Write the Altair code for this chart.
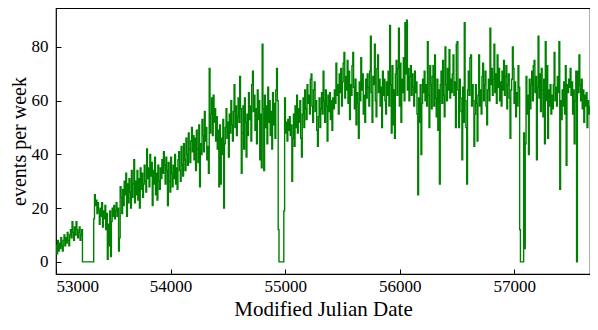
import altair as alt
import pandas as pd

# weekly event counts, each block starts at the given MJD and steps by 7 days
A_start, A = 53000, [6,3,8,4,7,5,9,6,4,8,10,6,9,7,11,8,6,10,12,9,15,11,8,13,10,15,12,9,11,13,8,10,12]
B_start, B = 53231, [0]*14
C_start, C = 53329, [16,25,21,23,18,22,19,14,20,17,22,13,19,16,21,12,18,1,14,6,19,2,15,20,17,21,16,19,22,17,20,4,9,28,24,18,27,21,30]
D_start, D = 53602, [25,33,17,29,22,31,26,20,34,24,29,38,22,30,25,34,23,31,20,35,27,33,24,29,36,30,26,42,31]
E_start, E = 53805, [35,28,40,32,37,21,34,29,39,25,33,23,36,30,27,35,31,38,33,41,36,29,39,34,21,37,30,26,39,33,28,36,31,40,29,35,27,38,41,34,30,43,36,32,44,38,34,46,40,36,48,42,37,45,50,41,47]
F_start, F = 54204, [38,46,34,49,42,37,51,28,44,40,53,47,41,56,45,50,38,43,33,72,48,55,61,47,62,52,57,45,54,42,49,28,51,29,46,40,53,20,44,50,57,46,52,39,55,48,60,51,45,56,66,50,58,47,54,61,52,69,57,33]
G_start, G = 54624, [48,58,42,61,52,39,55,47,63,53,58,45,66,71,56,62,49,57,44,64,53,60,38,55,35,81,57,34,62,50,58,44,65,52,60,47,56,42,63,51,59,46,64,72,60,12,0,0,0,0,0,0,19,61,48,52]
H_start, H = 55016, [45,53,49,54,47,51,30,46,55,43,58,50,62,48,57,52,60,46,39,55,61,50,64,57,53,66,59,62,55,68,70,58,52,64,67,56,60,49,43,54,61,50,57,63,55,71,60,52,64,58,45,62,56,63,53,60,49,61,57,64,59,74,62]
I_start, I = 55457, [66,55,70,63,72,58,67,74,78,61,69,64,75,59,71,53,66,62,73,78,65,57,68,51,63,59,46,67,60,76,64,70,55,62,52,68,61,70,65,58,71,84,63,52,69,66,81,60,54,72,77,63,68,58,65,50,71,62,68]
J_start, J = 55870, [60,55,67,62,71,58,88,66,48,73,51,64,46,70,75,62,72,87,58,74,52,68,63,76,60,89,70,90,64,72,60,69,73,62,70,65,58,71,63,67,55,25,61,52,66,40,59,68,63,71,60,66,58,82,62,50,73,66,57,69]
K_start, K = 56290, [73,58,77,61,54,68,49,64,29,66,71,59,75,62,54,80,66,60,72,64,79,61,68,63,70,77,62,67,50,81,82,64,50,68,61,56,38,65,52,89,60,50,29,64,71,62,76,77,58,66,60,43,55,66,59,45,62,77,58,64,55,69]
L_start, L = 56724, [74,60,66,71,58,51,64,68,60,87,66,72,62,68,81,63,70,59,77,65,72,60,67,58,71,64,75,62,69,73,57,66,70,61,46,64,68,80,72,59,67,54,63,58,73,65,12,0,0,0,0,48,5,44,69,55]
M_start, M = 57116, [62,40,68,57,66,71,60,73,75,63,69,38,65,84,61,70,56,72,64,54,68,44,82,60,73,46,64,58,66,55,62,57,66,78,60,65,58,69,63,82,27,60,53,64,58,67,55,73,36,66,63,68,65,72,62,67,55,64,44,60,71,0,71,63,77,66,60,68,57,64,52,62,58,63,50,60,55,58]

x_ticks = [53000, 54000, 55000, 56000, 57000]
y_ticks = [0, 20, 40, 60, 80]

blocks = [(A_start, A), (B_start, B), (C_start, C), (D_start, D), (E_start, E), (F_start, F),
          (G_start, G), (H_start, H), (I_start, I), (J_start, J), (K_start, K), (L_start, L), (M_start, M)]

rows = []
for start, vals in blocks:
    for k, v in enumerate(vals):
        rows.append({"mjd": start + 7 * k, "events": v})
df = pd.DataFrame(rows)

font = "Liberation Serif"

chart = alt.Chart(df).mark_line(
    interpolate="step-after", color="#008000", strokeWidth=1.4, clip=True
).encode(
    x=alt.X("mjd:Q", scale=alt.Scale(domain=[53000, 57660], nice=False, zero=False),
            axis=alt.Axis(title="Modified Julian Date", values=x_ticks,
                          format="d", offset=-5, tickSize=5, domain=False, grid=False,
                          labelPadding=4, titlePadding=4, tickColor="black",
                          labelFont=font, titleFont=font, labelFontSize=17, titleFontSize=21,
                          labelColor="black", titleColor="black", titleFontWeight="normal")),
    y=alt.Y("events:Q", scale=alt.Scale(domain=[-4.5, 94.5], nice=False, zero=False),
            axis=alt.Axis(title="events per week", values=y_ticks,
                          offset=-5, tickSize=5, domain=False, grid=False,
                          labelPadding=8, titlePadding=2, tickColor="black",
                          labelFont=font, titleFont=font, labelFontSize=17, titleFontSize=20,
                          labelColor="black", titleColor="black", titleFontWeight="normal")),
).properties(
    width=534, height=266,
    autosize=alt.AutoSizeParams(type="none"),
    padding={"left": 48, "top": 0, "right": 0, "bottom": 50}
).configure_view(stroke="black", strokeWidth=1.2)

chart.save("out.html", embed_options={"renderer": "svg", "actions": False})
